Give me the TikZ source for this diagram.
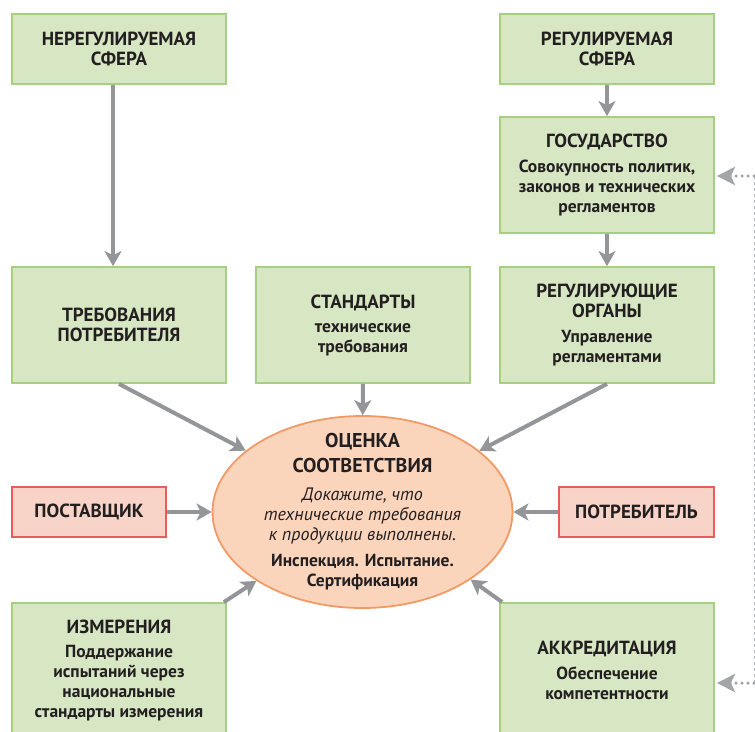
\documentclass[tikz,border=0pt]{standalone}
\usepackage{fontspec}
\setmainfont{PT Sans}
\usetikzlibrary{arrows.meta,shapes.geometric}

\definecolor{gfill}{HTML}{D7E7C3}
\definecolor{gline}{HTML}{A6D07F}
\definecolor{rfill}{HTML}{F8D3C7}
\definecolor{rline}{HTML}{E75C5C}
\definecolor{efill}{HTML}{FBD4BC}
\definecolor{eline}{HTML}{F29A66}
\definecolor{arr}{HTML}{939598}
\definecolor{dotc}{HTML}{A3A5A8}
\definecolor{txt}{HTML}{231F20}

% heading lines (capitals) and the large title of the ellipse
\newcommand{\hd}[1]{{\fontsize{19}{20}\selectfont #1}}
\newcommand{\bigtitle}[1]{{\fontsize{20}{25}\selectfont #1}}
\newcommand{\itline}[1]{{\fontsize{18}{20}\selectfont\mdseries\itshape #1}}

\tikzset{
  x=1pt, y=-1pt,
  box/.style={rectangle, draw=gline, fill=gfill, line width=1.8pt,
    minimum width=214pt, align=center, text=txt,
    font=\fontsize{17.5}{20}\selectfont\bfseries},
  redbox/.style={box, draw=rline, fill=rfill, minimum height=50pt},
  flow/.style={draw=arr, line width=4pt,
    -{Stealth[length=15pt,width=17pt,inset=4pt]}},
  feed/.style={draw=dotc, line width=3.5pt, line cap=round,
    dash pattern=on 0pt off 6pt,
    -{Stealth[length=18pt,width=18pt,inset=4pt,line cap=butt,sep=2pt]}},
  feedline/.style={draw=dotc!80, line width=1pt, dash pattern=on 3pt off 3pt},
}

\begin{document}
\begin{tikzpicture}
\useasboundingbox (0,0) rectangle (755,731);
\clip (0,0) rectangle (755,731);

% top row
\node[box, minimum height=70pt] (nereg) at (119,49) {\hd{НЕРЕГУЛИРУЕМАЯ}\\\hd{СФЕРА}};
\node[box, minimum height=70pt] (regs) at (607,49) {\hd{РЕГУЛИРУЕМАЯ}\\\hd{СФЕРА}};

% state
\node[box, minimum height=116pt] (gos) at (607,175)
  {\hd{ГОСУДАРСТВО}\\[5pt]Совокупность политик,\\законов и технических\\регламентов};

% middle row
\node[box, minimum height=116pt] (treb) at (119,325) {\hd{ТРЕБОВАНИЯ}\\\hd{ПОТРЕБИТЕЛЯ}};
\node[box, minimum height=116pt] (stand) at (363,325)
  {\hd{СТАНДАРТЫ}\\[4pt]технические\\требования};
\node[box, minimum height=116pt] (ro) at (607,325)
  {\hd{РЕГУЛИРУЮЩИЕ}\\\hd{ОРГАНЫ}\\[5pt]Управление\\регламентами};

% conformity assessment
\node[ellipse, draw=eline, fill=efill, line width=1.8pt,
      minimum width=300pt, minimum height=192pt, inner sep=0pt] (ocenka) at (362.5,512) {};
\node[align=center, text=txt, font=\fontsize{17.5}{20}\selectfont\bfseries] (ocenkatext) at (ocenka.center)
  {\bigtitle{ОЦЕНКА}\\[5pt]\bigtitle{СООТВЕТСТВИЯ}\\[8pt]
   \itline{Докажите, что}\\\itline{технические требования}\\\itline{к продукции выполнены.}\\[6pt]
   Инспекция. Испытание.\\Сертификация};

% parties
\node[redbox, minimum width=154pt] (post) at (89,512) {\hd{ПОСТАВЩИК}};
\node[redbox, minimum width=155pt] (potr) at (636.5,512) {\hd{ПОТРЕБИТЕЛЬ}};

% bottom row
\node[box, minimum height=134pt] (izm) at (119,670)
  {\hd{ИЗМЕРЕНИЯ}\\[4pt]Поддержание\\испытаний через\\национальные\\стандарты измерения};
\node[box, minimum height=134pt] (akk) at (607,670)
  {\hd{АККРЕДИТАЦИЯ}\\[5pt]Обеспечение\\компетентности};

% connectors
\draw[flow] ([xshift=-6pt]nereg.south) -- ([xshift=-6pt]treb.north);
\draw[flow] (regs) -- (gos);
\draw[flow] (gos) -- (ro);
\draw[flow] (treb.south) -- (ocenka);
\draw[flow] (stand) -- (ocenka);
\draw[flow] (ro.south) -- (ocenka);
\draw[flow] (post) -- (ocenka);
\draw[flow] (potr) -- (ocenka);
\draw[flow] ([xshift=-3pt]izm.north east) -- (ocenka.213);
\draw[flow] ([xshift=3pt]akk.north west) -- (ocenka.328);

% feedback line on the right edge
\coordinate (fb1) at (754,176);
\coordinate (fb2) at (754,683);
\draw[feedline] (fb1) -- (fb2);
\draw[feed] (fb1) -- (fb1 -| gos.east);
\draw[feed] (fb2) -- (fb2 -| akk.east);
\end{tikzpicture}
\end{document}
